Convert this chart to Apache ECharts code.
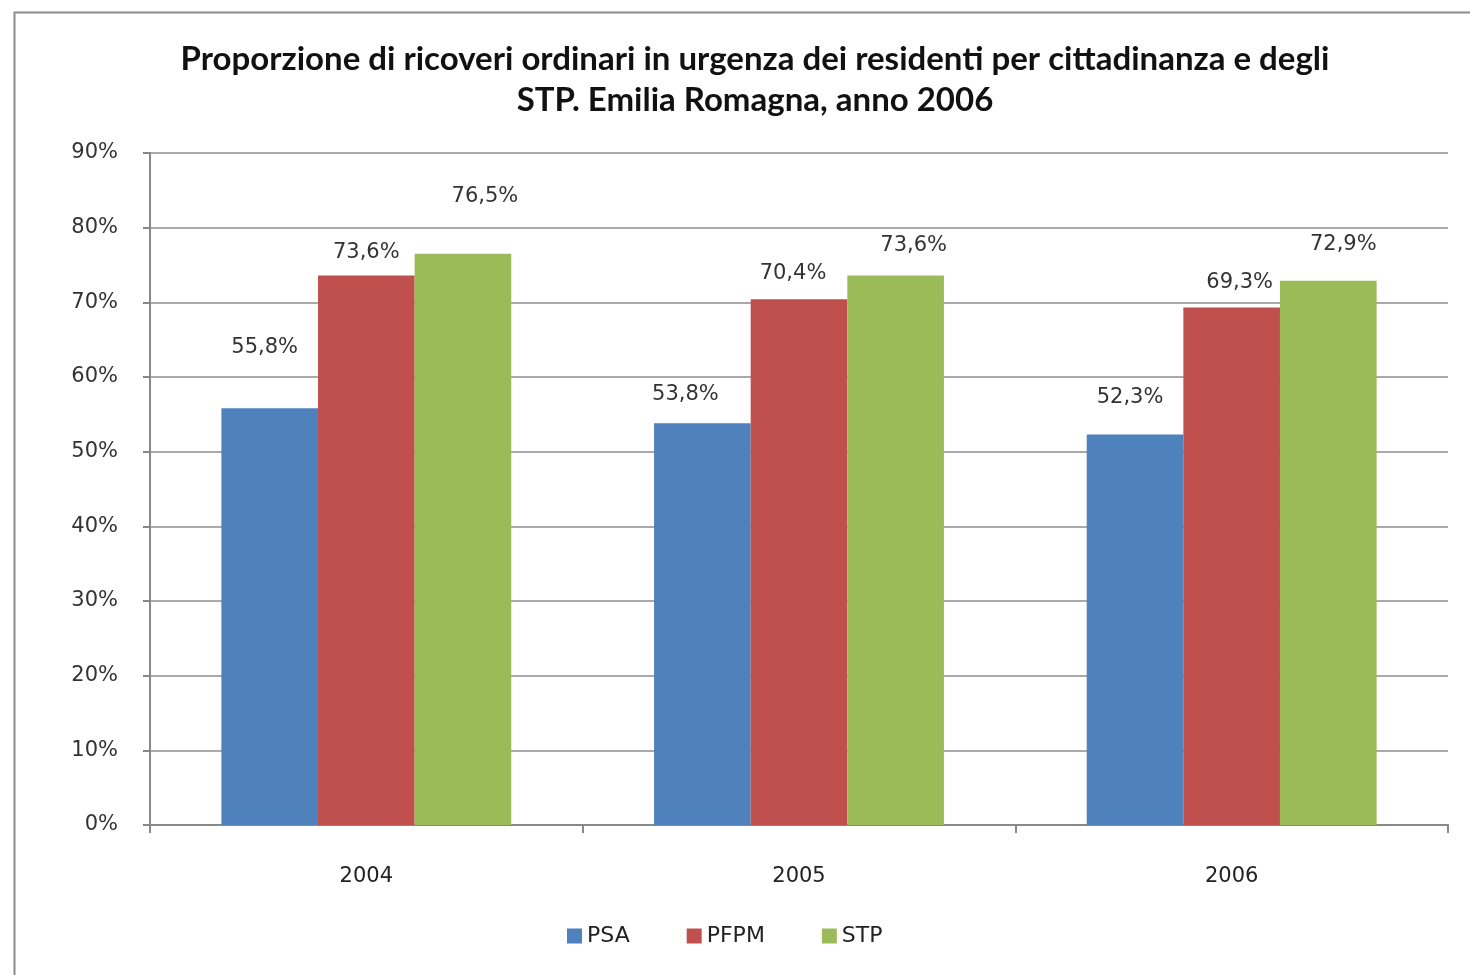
<!DOCTYPE html>
<html>
<head>
<meta charset="utf-8">
<script src="https://cdn.jsdelivr.net/npm/echarts@6/dist/echarts.min.js"></script>
<style>
  html, body { margin: 0; padding: 0; background: #fff; }
  #chart { width: 1470px; height: 975px; }
</style>
</head>
<body>
<div id="chart"></div>
<script>
const years = ['2004', '2005', '2006'];
const psa = [55.8, 53.8, 52.3];
const pfpm = [73.6, 70.4, 69.3];
const stp = [76.5, 73.6, 72.9];
const yTicks = [0, 10, 20, 30, 40, 50, 60, 70, 80, 90];

// label nudges, Excel left them a bit scattered
const labelShift = {
    PSA: [[-5, -50], [-17, -18], [-5, -26]],
    PFPM: [[0, -12], [-6, -15], [8, -15]],
    STP: [[22, -47], [18, -19], [15, -26]]
};

const colors = { PSA: '#4F81BD', PFPM: '#C0504D', STP: '#9BBB59' };

function makeSeries(name, values) {
    return {
        name: name,
        type: 'bar',
        barGap: '0%',
        barCategoryGap: '33%',
        itemStyle: { color: colors[name] },
        label: {
            show: true,
            position: 'top',
            distance: 0,
            fontFamily: 'DejaVu Sans',
            fontSize: 21,
            color: '#333',
            formatter: function (p) {
                return p.value.toFixed(1).replace('.', ',') + '%';
            }
        },
        data: values.map(function (v, i) {
            return { value: v, label: { offset: labelShift[name][i] } };
        })
    };
}

const chart = echarts.init(document.getElementById('chart'), null, { renderer: 'canvas' });
chart.setOption({
    animation: false,
    backgroundColor: '#fff',
    graphic: [{
        type: 'rect',
        left: 12, top: 10,
        shape: { width: 1500, height: 1000 },
        style: { fill: 'none', stroke: '#8a8a8a', lineWidth: 2 },
        z: -1
    }],
    title: {
        text: 'Proporzione di ricoveri ordinari in urgenza dei residenti per cittadinanza e degli\nSTP. Emilia Romagna, anno 2006',
        left: 750,
        textAlign: 'center',
        top: 34,
        textStyle: {
            fontFamily: 'Lato',
            fontWeight: 'bold',
            fontSize: 33,
            lineHeight: 41,
            color: '#111'
        }
    },
    legend: {
        bottom: 23,
        left: 562,
        itemWidth: 15,
        itemHeight: 15,
        itemGap: 57,
        icon: 'rect',
        textStyle: { fontFamily: 'DejaVu Sans', fontSize: 22, color: '#222' },
        data: ['PSA', 'PFPM', 'STP']
    },
    grid: { left: 150, right: 22, top: 153, bottom: 150 },
    xAxis: {
        type: 'category',
        data: years,
        axisLine: { lineStyle: { color: '#888', width: 2 } },
        axisTick: { show: true, length: 8, lineStyle: { color: '#888', width: 2 } },
        axisLabel: { fontFamily: 'DejaVu Sans', fontSize: 21, color: '#222', margin: 41 }
    },
    yAxis: {
        type: 'value',
        min: yTicks[0],
        max: yTicks[yTicks.length - 1],
        interval: 10,
        axisLine: { show: true, lineStyle: { color: '#888', width: 2 } },
        axisTick: { show: true, length: 7, lineStyle: { color: '#888', width: 2 } },
        splitLine: { lineStyle: { color: '#8c8c8c', width: 1.5 } },
        axisLabel: {
            fontFamily: 'DejaVu Sans', fontSize: 21, color: '#333', margin: 32,
            formatter: '{value}%'
        }
    },
    series: [
        makeSeries('PSA', psa),
        makeSeries('PFPM', pfpm),
        makeSeries('STP', stp)
    ]
});
</script>
</body>
</html>
